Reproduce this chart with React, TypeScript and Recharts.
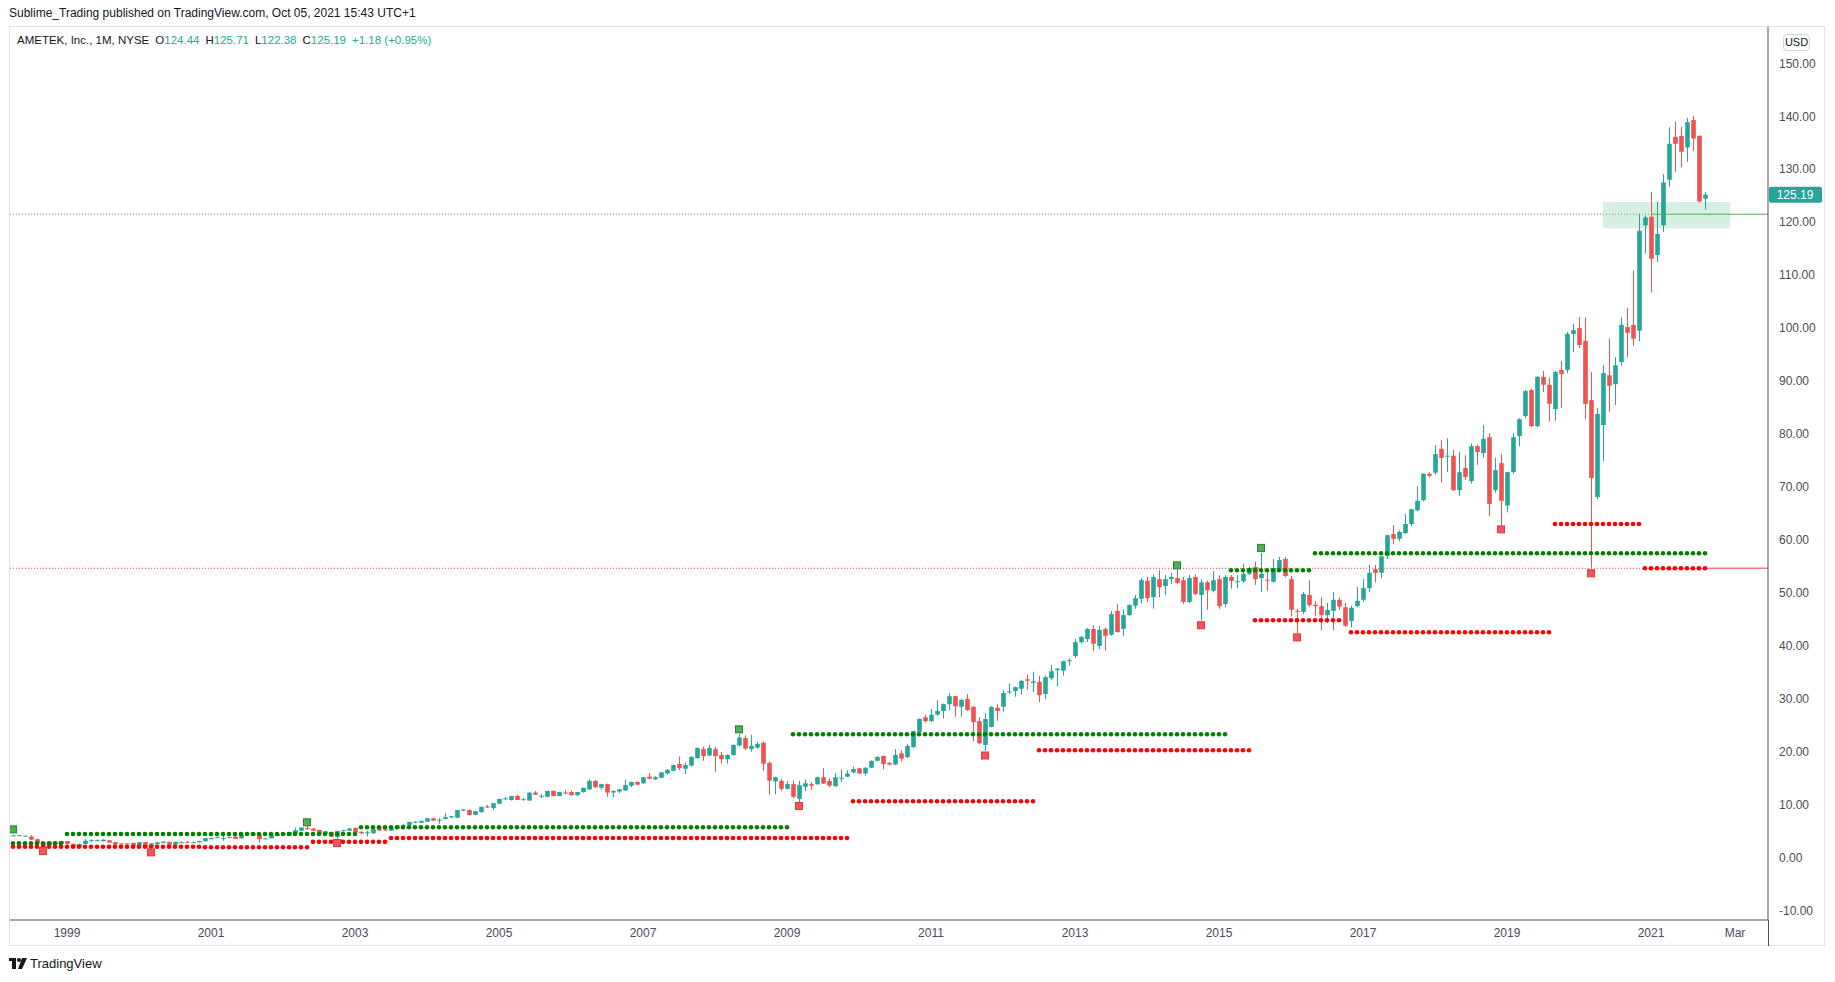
import React from 'react'
import { ComposedChart, Bar, Scatter, XAxis, YAxis, ReferenceLine, ReferenceArea } from 'recharts'

// monthly candles [open, high, low, close], Apr 1998 .. Oct 2021
const y1998 = [[4.2,4.35,4.05,4.22],[4.25,4.3,4.05,4.15],[4.12,4.2,4.0,4.15],[4.0,4.25,3.35,3.4],[3.5,3.6,2.7,2.75],[2.9,3.0,2.0,2.1],[2.3,3.05,2.25,3.0],[3.0,3.1,2.55,2.6],[2.6,3.2,2.55,3.15]]
const y1999 = [[3.15,3.2,2.5,2.6],[2.6,2.7,2.0,2.08],[2.08,2.65,2.0,2.58],[2.6,3.5,2.55,3.2],[3.2,3.5,3.0,3.3],[3.3,3.45,3.1,3.3],[3.1,3.45,3.05,3.4],[3.3,3.35,2.8,2.85],[2.95,3.0,2.45,2.5],[2.7,2.75,2.5,2.55],[2.7,2.75,2.5,2.55],[2.8,2.85,2.15,2.2]]
const y2000 = [[2.4,3.0,2.35,2.95],[2.95,3.0,1.95,2.0],[2.0,2.75,1.75,2.7],[2.55,2.95,2.5,2.9],[2.8,3.1,2.75,3.05],[3.0,3.05,2.35,2.4],[2.45,3.05,2.4,3.0],[2.9,3.1,2.75,2.92],[3.0,3.1,2.8,2.85],[2.88,3.05,2.75,2.92],[2.9,3.2,2.85,3.15],[3.1,3.75,3.05,3.7]]
const y2001 = [[3.5,3.8,3.45,3.75],[3.85,4.05,3.7,3.9],[3.68,4.1,3.2,3.72],[3.88,4.0,3.75,3.92],[4.0,4.05,3.5,3.55],[3.65,4.45,3.6,4.4],[4.4,4.65,4.35,4.6],[4.6,4.65,4.15,4.2],[4.3,4.35,2.85,3.5],[3.6,3.8,3.5,3.65],[3.65,4.45,3.6,4.4],[4.1,4.55,4.05,4.5]]
const y2002 = [[4.6,4.65,4.25,4.3],[4.15,4.9,4.1,4.85],[4.6,5.7,4.55,5.2],[5.1,5.75,5.0,5.7],[5.6,6.0,5.3,5.4],[5.5,5.6,5.0,5.1],[5.25,5.3,4.4,4.5],[4.5,5.1,4.45,5.0],[4.85,4.9,3.9,3.95],[3.9,5.1,3.5,5.05],[5.0,5.3,4.95,5.2],[5.1,5.6,5.05,5.5]]
const y2003 = [[5.6,5.7,4.7,4.75],[4.9,4.95,4.5,4.6],[4.6,5.1,4.0,4.8],[4.6,5.45,4.55,5.4],[5.5,5.6,5.0,5.15],[5.35,5.5,5.05,5.15],[5.1,5.65,5.05,5.6],[5.5,6.15,5.45,6.1],[6.1,6.35,6.0,6.2],[6.1,6.8,6.05,6.75],[6.7,6.9,6.6,6.8],[6.6,7.0,6.55,6.95]]
const y2004 = [[6.8,7.5,6.75,7.45],[7.45,7.5,6.95,7.0],[7.1,7.45,6.4,7.2],[7.3,8.4,7.25,7.65],[7.6,7.9,7.5,7.85],[7.55,9.05,7.5,9.0],[8.9,9.2,8.8,9.1],[9.0,9.1,8.0,8.05],[8.1,8.85,8.0,8.8],[8.6,9.65,8.5,9.6],[9.7,9.95,9.4,9.5],[9.4,10.35,9.0,10.3]]
const y2005 = [[10.2,11.15,10.1,11.1],[11.15,11.5,10.9,11.2],[10.9,11.7,10.8,11.65],[11.65,11.9,10.85,10.9],[11.0,11.25,10.8,11.05],[10.8,12.35,10.7,12.3],[12.3,12.6,11.85,11.9],[11.6,12.0,11.3,11.7],[11.5,12.65,11.4,12.6],[12.6,12.7,11.6,11.65],[11.65,12.45,11.6,12.4],[12.3,12.8,12.0,12.1]]
const y2006 = [[12.4,12.7,11.75,11.8],[11.8,12.45,11.7,12.4],[12.4,13.25,12.3,13.2],[12.9,14.8,12.8,14.5],[14.5,14.7,13.2,13.3],[13.2,13.95,12.9,13.9],[13.9,14.0,11.5,12.3],[12.3,12.7,11.4,12.6],[12.5,13.0,12.2,12.9],[12.7,14.7,12.6,13.7],[13.6,14.35,13.3,14.3],[14.3,14.4,13.6,13.8]]
const y2007 = [[14.05,15.25,13.95,15.2],[15.3,16.0,14.8,14.9],[14.8,15.4,14.7,15.2],[15.1,16.2,15.0,16.1],[15.9,16.7,15.7,16.6],[16.4,17.6,16.3,17.5],[17.7,19.1,16.5,16.9],[16.8,18.0,15.8,17.5],[17.4,19.2,17.2,19.0],[18.8,20.8,18.7,20.7],[20.5,21.0,18.3,19.2],[19.3,21.3,19.2,20.7]]
const y2008 = [[20.5,20.9,16.2,19.2],[19.4,20.0,17.8,18.6],[18.6,19.5,17.8,19.4],[19.4,21.4,19.2,21.3],[21.2,23.4,21.0,22.7],[22.6,23.1,20.3,20.6],[20.5,23.2,20.0,21.1],[20.8,21.9,20.6,21.5],[21.7,22.0,16.4,17.75],[17.9,18.2,11.9,14.55],[14.4,15.3,12.0,15.2],[14.5,14.9,12.6,13.0]]
const y2009 = [[13.0,14.5,12.9,13.9],[13.9,14.6,11.2,11.5],[11.1,14.5,10.5,13.7],[13.4,14.8,12.6,14.05],[13.9,14.3,12.8,13.6],[13.85,15.3,13.8,15.2],[15.2,16.9,13.9,14.0],[14.5,15.0,13.3,13.6],[13.5,16.0,13.4,15.2],[15.1,16.6,14.3,15.1],[15.3,16.5,15.2,15.9],[16.1,17.2,16.0,16.75]]
const y2010 = [[16.9,17.0,15.8,15.9],[15.9,17.05,15.5,17.0],[17.0,18.35,16.9,18.3],[18.3,19.2,18.2,19.0],[19.2,19.3,16.7,17.7],[17.9,18.1,17.4,17.6],[17.6,20.5,17.5,19.4],[19.7,20.3,18.2,18.7],[19.0,21.5,18.8,21.1],[20.9,24.0,20.7,23.9],[23.7,26.3,23.5,26.2],[26.5,27.0,25.5,25.8]]
const y2011 = [[25.8,28.1,25.6,27.0],[27.0,29.8,26.8,27.7],[27.7,29.1,26.3,29.0],[29.0,31.1,27.8,30.5],[30.5,30.6,26.6,28.6],[28.5,30.0,26.6,29.8],[30.0,30.9,27.7,27.9],[28.5,28.6,22.0,25.6],[25.8,26.5,21.4,21.6],[21.3,27.3,20.2,26.2],[24.7,28.6,24.6,28.5],[28.3,29.0,25.9,27.7]]
const y2012 = [[28.5,31.6,27.6,31.1],[31.2,32.9,30.9,31.4],[31.5,32.3,30.4,32.2],[31.9,33.6,30.8,33.4],[33.7,34.6,31.7,33.4],[33.0,35.1,31.3,33.3],[33.2,34.3,29.4,30.7],[30.9,34.4,29.9,34.1],[33.9,36.4,33.5,35.2],[35.4,35.8,32.3,35.7],[35.3,37.2,34.4,37.1],[37.1,37.6,36.2,37.3]]
const y2013 = [[38.1,41.3,37.7,40.7],[40.7,41.9,40.4,41.7],[41.3,43.4,40.7,43.2],[43.2,43.9,39.0,40.4],[40.0,43.75,39.4,43.0],[43.2,43.5,39.1,41.9],[42.1,46.6,41.9,46.0],[46.6,47.9,42.5,42.6],[43.2,46.8,41.9,45.8],[45.8,47.9,45.6,47.7],[47.6,49.6,47.0,49.0],[48.9,52.8,48.0,52.4]]
const y2014 = [[52.3,53.0,48.3,49.0],[49.2,53.5,47.0,53.0],[52.6,54.3,49.2,51.1],[51.3,53.4,49.6,52.6],[52.6,53.8,51.7,53.0],[52.8,54.5,51.6,51.9],[52.4,53.0,47.9,48.3],[48.3,53.4,48.1,52.8],[53.0,53.5,49.6,49.8],[49.6,52.6,44.8,52.0],[52.0,52.3,46.8,50.5],[50.4,54.1,50.1,52.4]]
const y2015 = [[52.6,53.3,47.0,47.5],[47.9,53.4,47.3,53.0],[53.0,53.4,50.8,52.25],[52.0,53.4,50.9,52.2],[52.2,55.5,51.9,53.6],[53.6,55.0,53.4,54.7],[54.9,55.9,51.5,52.6],[52.8,57.5,50.2,53.6],[52.5,54.4,50.4,52.3],[52.1,56.4,51.9,54.7],[54.4,56.8,54.1,56.2],[56.4,56.8,52.9,53.2]]
const y2016 = [[52.6,53.2,45.6,46.8],[46.6,47.0,42.4,46.4],[46.4,50.2,46.0,49.8],[49.6,52.4,47.4,47.7],[47.8,48.5,45.6,47.5],[47.5,49.2,43.0,45.8],[45.8,48.1,44.3,46.8],[46.6,50.2,43.0,48.7],[48.7,49.2,46.8,47.4],[47.3,48.1,43.6,43.8],[44.7,47.6,43.5,47.2],[47.5,51.1,47.3,48.5]]
const y2017 = [[48.7,52.6,48.3,50.9],[50.9,55.3,50.2,53.8],[54.5,55.3,52.0,53.8],[53.8,57.0,52.8,56.9],[57.0,61.0,56.4,60.9],[61.1,62.8,59.2,60.2],[60.2,61.8,59.8,61.5],[61.3,64.9,61.1,63.0],[63.0,65.9,62.6,65.8],[65.6,70.2,65.4,67.4],[67.5,72.6,67.3,72.5],[72.5,72.8,71.8,72.1]]
const y2018 = [[72.7,77.9,72.3,76.2],[77.2,78.8,70.8,75.5],[75.8,79.2,72.8,75.9],[75.9,77.0,69.3,69.4],[69.4,76.6,68.3,72.8],[73.6,76.0,71.3,71.9],[71.1,78.2,70.7,77.7],[77.7,78.0,74.2,76.6],[76.4,81.7,75.5,79.1],[79.4,80.2,64.5,66.8],[69.4,75.5,68.9,73.2],[74.5,76.2,62.8,67.4]]
const y2019 = [[66.5,72.9,65.2,72.8],[72.8,80.2,72.5,79.4],[79.6,83.0,77.7,82.8],[83.4,88.3,83.0,88.1],[88.3,88.6,81.3,81.5],[81.5,90.9,81.3,90.8],[90.8,91.9,87.9,89.3],[89.3,90.6,82.3,85.7],[84.7,91.9,82.5,91.7],[92.1,93.8,84.9,91.3],[92.1,99.3,91.5,98.9],[98.9,100.8,95.5,99.6]]
const y2020 = [[100.0,102.1,96.2,96.8],[97.6,102.0,82.8,85.7],[86.4,91.7,54.75,71.7],[68.1,84.9,67.7,83.8],[81.7,93.0,74.9,91.5],[91.1,98.0,84.2,89.1],[89.4,94.5,85.5,93.0],[93.6,102.0,92.9,100.6],[100.2,103.8,94.5,99.1],[100.6,110.9,96.6,98.0],[99.5,121.6,97.5,118.4],[119.4,121.3,114.1,120.9]]
const y2021 = [[121.0,125.7,106.7,113.1],[113.8,123.9,112.5,117.8],[119.4,129.1,118.2,127.5],[128.0,137.9,126.7,134.8],[136.1,139.0,129.5,134.8],[136.3,138.0,130.3,133.3],[134.1,139.7,131.4,138.9],[139.3,140.1,133.4,135.8],[136.3,136.4,123.7,123.9],[124.44,125.71,122.38,125.19]]

// support / resistance dot rows: [first month, last month, price]
const greenLevels = [[0, 8, 2.71], [9, 57, 4.47], [58, 129, 5.74], [130, 202, 23.3], [203, 216, 54.27], [217, 282, 57.48]]
const redLevels = [[0, 31, 2.08], [32, 49, 1.97], [50, 62, 3.0], [63, 139, 3.72], [140, 170, 10.65], [171, 206, 20.28], [207, 221, 44.83], [223, 256, 42.56], [257, 271, 63.0], [272, 282, 54.65]]

// pivot markers: [month, price]
const pivotHighs = [[0, 5.35], [49, 6.68], [121, 24.24], [194, 55.2], [208, 58.5]]
const pivotLows = [[5, 1.26], [23, 1.01], [54, 2.78], [131, 9.77], [162, 19.3], [198, 43.89], [214, 41.6], [248, 62.0], [263, 53.7]]

const timeTicks = [9, 33, 57, 81, 105, 129, 153, 177, 201, 225, 249, 273, 287]
const timeLabels = ['1999', '2001', '2003', '2005', '2007', '2009', '2011', '2013', '2015', '2017', '2019', '2021', 'Mar']
const priceTicks = [-10, 0, 10, 20, 30, 40, 50, 60, 70, 80, 90, 100, 110, 120, 130, 140, 150]

const lastPrice = 125.19
const breakoutLevel = 121.5
const supportLevel = 54.65
const zone = { from: 265, to: 286.2, low: 118.8, high: 123.8 }

const candles = [...y1998, ...y1999, ...y2000, ...y2001, ...y2002, ...y2003, ...y2004, ...y2005, ...y2006, ...y2007, ...y2008, ...y2009, ...y2010, ...y2011, ...y2012, ...y2013, ...y2014, ...y2015, ...y2016, ...y2017, ...y2018, ...y2019, ...y2020, ...y2021]
const data = candles.map(([o, h, l, c], m) => ({ m, o, h, l, c, range: [l, h] }))

const toDots = (rows: number[][]) =>
  rows.flatMap(([a, b, p]) => Array.from({ length: b - a + 1 }, (_, i) => ({ m: a + i, p })))

const UP = '#26a69a'
const DOWN = '#ef5350'
const FONT = '"Liberation Sans", Arial, sans-serif'

const Candle = (props: any) => {
  const { x, y, width, height, payload } = props
  const { o, h, l, c } = payload
  const cx = Math.round(x + width / 2) + 0.5
  const k = h === l ? 0 : height / (h - l)
  const yo = y + (h - o) * k
  const yc = y + (h - c) * k
  const col = c >= o ? UP : DOWN
  const top = Math.min(yo, yc)
  const bh = Math.max(1, Math.abs(yc - yo))
  return (
    <g>
      <line x1={cx} x2={cx} y1={y} y2={y + height} stroke={col} strokeWidth={1} />
      <rect x={cx - 2.3} y={top} width={4.6} height={bh} fill={col} />
    </g>
  )
}

const dotShape = (color: string) => (p: any) => <circle cx={p.cx} cy={p.cy} r={2.3} fill={color} />
const squareShape = (fill: string, stroke: string) => (p: any) =>
  <rect x={p.cx - 3.5} y={p.cy - 3.5} width={7} height={7} fill={fill} stroke={stroke} strokeWidth={1} />

const PriceTag = (props: any) => {
  const { viewBox } = props
  const x = viewBox.x + viewBox.width + 1
  const y = viewBox.y
  return (
    <g>
      <rect x={x} y={y - 8} width={53} height={16} rx={2} fill={UP} />
      <text x={x + 26} y={y + 4} textAnchor="middle" fill="#fff" fontSize={12} fontFamily={FONT}>{lastPrice.toFixed(2)}</text>
    </g>
  )
}

export default function App() {
  const tf = (v: number) => timeLabels[timeTicks.indexOf(v)] ?? ''
  const quote = [['O', '124.44'], ['H', '125.71'], ['L', '122.38'], ['C', '125.19']]
  return (
    <div style={{ position: 'absolute', left: 0, top: 0, width: 1835, height: 982, background: '#fff', fontFamily: FONT, color: '#131722' }}>
      <div style={{ position: 'absolute', left: 9, top: 6, fontSize: 12 }}>
        Sublime_Trading published on TradingView.com, Oct 05, 2021 15:43 UTC+1
      </div>
      <div style={{ position: 'absolute', left: 9, top: 26, width: 1816, height: 920, border: '1px solid #e0e3eb', boxSizing: 'border-box' }} />
      <ComposedChart width={1835} height={982} data={data} margin={{ top: 27, right: 10, left: 10, bottom: 36 }}>
        <XAxis dataKey="m" type="number" domain={[-0.5, 292.5]} ticks={timeTicks} interval={0} tickFormatter={tf}
          allowDataOverflow axisLine={{ stroke: '#50535e' }} tickLine={false} tickSize={6} height={26}
          tick={{ fill: '#4a4d59', fontSize: 12, fontFamily: FONT }} />
        <YAxis orientation="right" type="number" domain={[-11.76, 156.85]} ticks={priceTicks} interval={0}
          allowDataOverflow width={57} axisLine={{ stroke: '#50535e' }} tickLine={false} tickSize={8} tickMargin={3}
          tickFormatter={(v: number) => v.toFixed(2)} tick={{ fill: '#4a4d59', fontSize: 12, fontFamily: FONT }} />
        <ReferenceArea x1={zone.from} x2={zone.to} y1={zone.low} y2={zone.high} fill="#3cb371" fillOpacity={0.2} stroke="none" />
        <ReferenceLine segment={[{ x: -0.5, y: breakoutLevel }, { x: 273, y: breakoutLevel }]} stroke="#4caf50" strokeDasharray="1 2" />
        <ReferenceLine segment={[{ x: 273, y: breakoutLevel }, { x: 292.5, y: breakoutLevel }]} stroke="#4caf50" strokeWidth={1} />
        <ReferenceLine segment={[{ x: -0.5, y: supportLevel }, { x: 282, y: supportLevel }]} stroke="#f23645" strokeDasharray="1 2" />
        <ReferenceLine segment={[{ x: 282, y: supportLevel }, { x: 292.5, y: supportLevel }]} stroke="#f77c80" strokeWidth={1.5} />
        <Scatter data={toDots(greenLevels)} dataKey="p" shape={dotShape('#008000')} isAnimationActive={false} />
        <Scatter data={toDots(redLevels)} dataKey="p" shape={dotShape('#ff0000')} isAnimationActive={false} />
        <Bar dataKey="range" barSize={5} shape={<Candle />} isAnimationActive={false} />
        <Scatter data={pivotHighs.map(([m, p]) => ({ m, p }))} dataKey="p" shape={squareShape('#4caf50', '#2e7d32')} isAnimationActive={false} />
        <Scatter data={pivotLows.map(([m, p]) => ({ m, p }))} dataKey="p" shape={squareShape('#f7525f', '#e53935')} isAnimationActive={false} />
        <ReferenceLine y={lastPrice} strokeOpacity={0} label={<PriceTag />} />
      </ComposedChart>
      <div style={{ position: 'absolute', left: 17, top: 34, fontSize: 11.5, whiteSpace: 'nowrap' }}>
        <span>AMETEK, Inc., 1M, NYSE</span>
        {quote.map(([k, v]) => (
          <span key={k} style={{ marginLeft: 6 }}>{k}<span style={{ color: '#22ab94' }}>{v}</span></span>
        ))}
        <span style={{ marginLeft: 6, color: '#22ab94' }}>+1.18 (+0.95%)</span>
      </div>
      <div style={{ position: 'absolute', left: 1783, top: 34, width: 27, height: 17, border: '1px solid #d1d4dc', borderRadius: 4, boxSizing: 'border-box', fontSize: 11, lineHeight: '15px', textAlign: 'center' }}>USD</div>
      <div style={{ position: 'absolute', left: 1768, top: 920, width: 1, height: 26, background: '#50535e' }} />
      <div style={{ position: 'absolute', left: 9, top: 956, display: 'flex', alignItems: 'center', fontSize: 13 }}>
        <svg width={18} height={11} viewBox="0 0 18 11" style={{ marginRight: 3 }}>
          <rect x={0} y={0} width={7} height={3} fill="#131722" />
          <rect x={3} y={0} width={4} height={11} fill="#131722" />
          <circle cx={10} cy={2} r={2} fill="#131722" />
          <polygon points="13,0 18,0 13,11 9,11" fill="#131722" />
        </svg>
        <span>TradingView</span>
      </div>
    </div>
  )
}
